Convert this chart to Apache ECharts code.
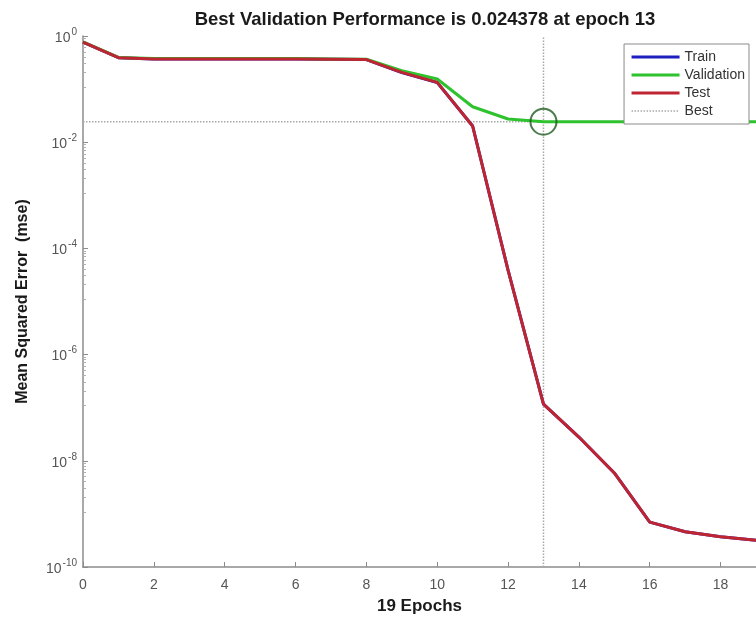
<!DOCTYPE html>
<html>
<head>
<meta charset="utf-8">
<script src="https://cdn.jsdelivr.net/npm/echarts@6/dist/echarts.min.js"></script>
<style>
  html, body { margin: 0; padding: 0; background: #fff; }
  #chart { width: 756px; height: 621px; }
</style>
</head>
<body>
<div id="chart"></div>
<script>
// epochs and performance values
const epochs = [0, 1, 2, 3, 4, 5, 6, 7, 8, 9, 10, 11, 12, 13, 14, 15, 16, 17, 18, 19];
const trainPerf = [0.77, 0.39, 0.37, 0.37, 0.37, 0.37, 0.37, 0.365, 0.36, 0.205, 0.133, 0.0202, 3.9e-5, 1.17e-7, 2.8e-8, 5.9e-9, 7.0e-10, 4.6e-10, 3.7e-10, 3.2e-10];
const valPerf = [0.775, 0.395, 0.375, 0.375, 0.375, 0.375, 0.375, 0.37, 0.365, 0.222, 0.155, 0.0465, 0.0273, 0.024378, 0.0244, 0.0244, 0.0244, 0.0244, 0.0244, 0.0244];
const testPerf = [0.77, 0.39, 0.37, 0.37, 0.37, 0.37, 0.37, 0.365, 0.36, 0.207, 0.134, 0.0202, 3.9e-5, 1.17e-7, 2.8e-8, 5.9e-9, 7.0e-10, 4.6e-10, 3.7e-10, 3.2e-10];
const bestEpoch = 13;
const bestPerf = 0.024378;
const xMax = 19;
const yMin = 1e-10;
const yMax = 1;

const font = '"Liberation Sans", Arial, Helvetica, sans-serif';

const chart = echarts.init(document.getElementById('chart'));

const pairs = (ys) => epochs.map((e, i) => [e, ys[i]]);

const option = {
  animation: false,
  backgroundColor: '#fff',
  textStyle: { fontFamily: font },
  title: {
    text: 'Best Validation Performance is ' + bestPerf + ' at epoch ' + bestEpoch,
    left: 420,
    top: 5,
    textAlign: 'center',
    textStyle: { fontFamily: font, fontSize: 18.5, fontWeight: 'bold', color: '#1a1a1a' }
  },
  grid: { left: 83, right: -7, top: 36, bottom: 54 },
  legend: {
    data: [
      { name: 'Train', lineStyle: { width: 3 } },
      { name: 'Validation', lineStyle: { width: 3 } },
      { name: 'Test', lineStyle: { width: 3 } },
      { name: 'Best', lineStyle: { width: 1.5 } }
    ],
    orient: 'vertical',
    right: 7,
    top: 44,
    itemWidth: 48,
    itemHeight: 12,
    itemGap: 2,
    padding: [5, 4, 5, 6],
    backgroundColor: '#fff',
    borderColor: '#8a8a8a',
    borderWidth: 1,
    itemStyle: { opacity: 0 },
    textStyle: { fontFamily: font, fontSize: 14, color: '#333', lineHeight: 16 }
  },
  xAxis: {
    type: 'value',
    min: 0,
    max: xMax,
    interval: 2,
    name: epochs.length - 1 + ' Epochs',
    nameLocation: 'middle',
    nameGap: 31,
    nameTextStyle: { fontFamily: font, fontSize: 17, fontWeight: 'bold', color: '#1a1a1a' },
    axisLine: { lineStyle: { color: '#8c8c8c', width: 1.5 } },
    axisTick: { inside: true, length: 5, lineStyle: { color: '#8c8c8c' } },
    axisLabel: { margin: 11, fontSize: 14, color: '#555', showMaxLabel: false },
    splitLine: { show: false }
  },
  yAxis: {
    type: 'log',
    logBase: 10,
    min: yMin,
    max: yMax,
    interval: 2,
    name: 'Mean Squared Error  (mse)',
    nameLocation: 'middle',
    nameGap: 52,
    nameTextStyle: { fontFamily: font, fontSize: 16, fontWeight: 'bold', color: '#1a1a1a' },
    axisLine: { show: true, lineStyle: { color: '#8c8c8c', width: 1.5 } },
    axisTick: { inside: true, length: 5, lineStyle: { color: '#8c8c8c' } },
    minorTick: { show: true, splitNumber: 10, length: 3, lineStyle: { color: '#b0b0b0' } },
    axisLabel: {
      margin: 6,
      formatter: (v) => '{b|10}{s|' + Math.round(Math.log10(v)) + '}',
      rich: {
        b: { fontSize: 14, color: '#555', lineHeight: 18, verticalAlign: 'bottom' },
        s: { fontSize: 10, color: '#555', lineHeight: 18, verticalAlign: 'top', padding: [0, 0, 6, 1] }
      }
    },
    splitLine: { show: false }
  },
  series: [
    {
      name: 'Best', type: 'line', data: [[0, bestPerf], [xMax, bestPerf]],
      symbol: 'none', silent: true, z: 1,
      lineStyle: { color: '#a8a8a8', width: 1.5, type: 'dotted' }, itemStyle: { color: '#a8a8a8' }
    },
    {
      name: 'bestEpochLine', type: 'line', data: [[bestEpoch, yMin], [bestEpoch, yMax]],
      symbol: 'none', silent: true, z: 1,
      lineStyle: { color: '#a8a8a8', width: 1.5, type: 'dotted' }
    },
    {
      name: 'Train', type: 'line', data: pairs(trainPerf),
      showSymbol: false, symbol: 'none',
      lineStyle: { color: '#1f1fc0', width: 3 }, itemStyle: { color: '#1f1fc0' }
    },
    {
      name: 'Validation', type: 'line', data: pairs(valPerf),
      showSymbol: false, symbol: 'none',
      lineStyle: { color: '#2ec22e', width: 3 }, itemStyle: { color: '#2ec22e' }
    },
    {
      name: 'Test', type: 'line', data: pairs(testPerf),
      showSymbol: false, symbol: 'none',
      lineStyle: { color: '#bf2530', width: 3 }, itemStyle: { color: '#bf2530' }
    },
    {
      name: 'bestPoint', type: 'scatter', data: [[bestEpoch, bestPerf]],
      symbol: 'circle', symbolSize: 26, z: 5,
      itemStyle: { color: 'rgba(0,0,0,0)', borderColor: '#1f5a1f', borderWidth: 2 }
    }
  ]
};

chart.setOption(option);
</script>
</body>
</html>
